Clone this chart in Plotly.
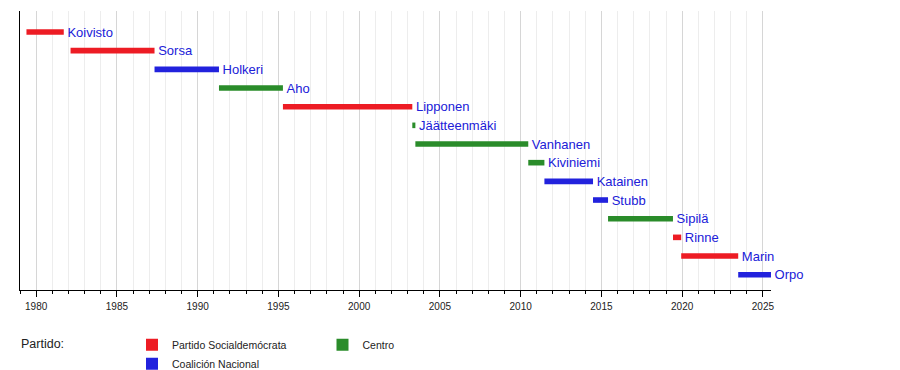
import plotly.graph_objects as go

# Finnish prime ministers (decimal years)
names = ["Koivisto", "Sorsa", "Holkeri", "Aho", "Lipponen", "Jäätteenmäki",
         "Vanhanen", "Kiviniemi", "Katainen", "Stubb", "Sipilä", "Rinne",
         "Marin", "Orpo"]
starts = [1979.40, 1982.13, 1987.33, 1991.32, 1995.28, 2003.29, 2003.48,
          2010.47, 2011.47, 2014.48, 2015.41, 2019.43, 2019.94, 2023.47]
ends = [1981.71, 1987.33, 1991.32, 1995.28, 2003.29, 2003.48, 2010.47,
        2011.47, 2014.48, 2015.41, 2019.43, 2019.94, 2023.47, 2025.50]
parties = ["PSD", "PSD", "KOK", "KESK", "PSD", "KESK", "KESK", "KESK",
           "KOK", "KOK", "KESK", "PSD", "PSD", "KOK"]

party_names = {"PSD": "Partido Socialdemócrata", "KOK": "Coalición Nacional", "KESK": "Centro"}
party_colors = {"PSD": "#ED1C24", "KOK": "#2222DD", "KESK": "#2A8C2A"}
party_legend = {"PSD": "legend", "KOK": "legend", "KESK": "legend2"}
party_rank = {"PSD": 1, "KOK": 2, "KESK": 1}

FONT = "Liberation Sans, Arial, sans-serif"
LABEL_COLOR = "#2020D8"

# the page body has an 8px margin, so the figure is drawn 8px in from the corner
W, H = 892, 362

fig = go.Figure()
for p in ["PSD", "KOK", "KESK"]:
    idx = [i for i, q in enumerate(parties) if q == p]
    fig.add_trace(go.Bar(
        orientation="h",
        y=[names[i] for i in idx],
        base=[starts[i] for i in idx],
        x=[ends[i] - starts[i] for i in idx],
        text=[names[i] for i in idx],
        texttemplate="\u00a0%{text}",
        textposition="outside",
        constraintext="none",
        cliponaxis=False,
        textfont=dict(family=FONT, size=13, color=LABEL_COLOR),
        marker=dict(color=party_colors[p], line=dict(width=0)),
        width=0.3,
        name=party_names[p],
        legend=party_legend[p],
        legendrank=party_rank[p],
        hoverinfo="skip",
    ))

legend_style = dict(xref="container", yref="container", xanchor="left", yanchor="top",
                    orientation="v", font=dict(family=FONT, size=10.5, color="#222222"),
                    bgcolor="rgba(0,0,0,0)", itemclick=False, itemdoubleclick=False)

legend_top = (H - 322.2) / H

fig.update_layout(
    width=W, height=H,
    margin=dict(l=12, r=129, t=3, b=80, autoexpand=False),
    paper_bgcolor="white", plot_bgcolor="white",
    font=dict(family=FONT, color="#222222"),
    barmode="overlay",
    showlegend=True,
    legend=dict(x=124 / W, y=legend_top, **legend_style),
    legend2=dict(x=314.5 / W, y=legend_top, **legend_style),
    xaxis=dict(
        range=[1979.0, 2025.5],
        tickmode="linear", tick0=1980, dtick=5,
        ticks="outside", ticklen=6, tickcolor="black", tickwidth=1,
        tickfont=dict(family=FONT, size=10, color="#222222"),
        ticklabelstandoff=1,
        showline=True, linecolor="black", linewidth=1,
        showgrid=True, gridcolor="#D6D6D6", gridwidth=1,
        zeroline=False, automargin=False,
        minor=dict(tick0=1980, dtick=1, ticks="outside", ticklen=3, tickcolor="black",
                   showgrid=True, gridcolor="#EDEDED", gridwidth=1),
        fixedrange=True,
    ),
    yaxis=dict(
        type="category",
        categoryorder="array", categoryarray=names,
        range=[13.82, -1.125],
        showticklabels=False, ticks="",
        showline=True, linecolor="black", linewidth=1,
        showgrid=False, zeroline=False, automargin=False,
        fixedrange=True,
    ),
    annotations=[dict(text="Partido:", xref="paper", yref="paper",
                      x=-0.0015, y=-0.1935, xanchor="left", yanchor="middle",
                      showarrow=False,
                      font=dict(family=FONT, size=12.5, color="#222222"))],
)

fig.write_html("out.html")
